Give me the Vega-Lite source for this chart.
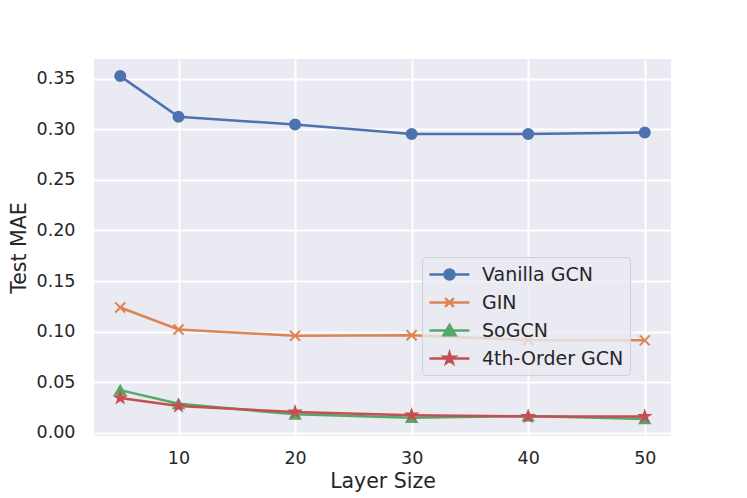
{
  "$schema": "https://vega.github.io/schema/vega-lite/v6.json",
  "autosize": {"type": "none"},
  "width": 577,
  "height": 377,
  "padding": {"left": 94, "top": 59, "right": 76, "bottom": 62},
  "background": "white",
  "config": {
    "view": {"fill": "#EAEAF2", "stroke": null},
    "font": "DejaVu Sans",
    "axis": {
      "domain": false,
      "ticks": false,
      "tickSize": 0,
      "grid": true,
      "gridColor": "white",
      "gridWidth": 2,
      "labelFont": "DejaVu Sans",
      "labelFontSize": 17.5,
      "labelColor": "#262626",
      "titleFont": "DejaVu Sans",
      "titleFontSize": 20.5,
      "titleFontWeight": "normal",
      "titleColor": "#262626"
    }
  },
  "data": {
    "values": [
      {"size": 5, "mae": 0.3525, "model": "Vanilla GCN", "marker": "o"},
      {"size": 10, "mae": 0.3123, "model": "Vanilla GCN", "marker": "o"},
      {"size": 20, "mae": 0.3047, "model": "Vanilla GCN", "marker": "o"},
      {"size": 30, "mae": 0.2952, "model": "Vanilla GCN", "marker": "o"},
      {"size": 40, "mae": 0.2952, "model": "Vanilla GCN", "marker": "o"},
      {"size": 50, "mae": 0.2968, "model": "Vanilla GCN", "marker": "o"},
      {"size": 5, "mae": 0.1239, "model": "GIN", "marker": "x"},
      {"size": 10, "mae": 0.1022, "model": "GIN", "marker": "x"},
      {"size": 20, "mae": 0.0959, "model": "GIN", "marker": "x"},
      {"size": 30, "mae": 0.0965, "model": "GIN", "marker": "x"},
      {"size": 40, "mae": 0.0918, "model": "GIN", "marker": "x"},
      {"size": 50, "mae": 0.0914, "model": "GIN", "marker": "x"},
      {"size": 5, "mae": 0.0422, "model": "SoGCN", "marker": "^"},
      {"size": 10, "mae": 0.0287, "model": "SoGCN", "marker": "^"},
      {"size": 20, "mae": 0.0183, "model": "SoGCN", "marker": "^"},
      {"size": 30, "mae": 0.0150, "model": "SoGCN", "marker": "^"},
      {"size": 40, "mae": 0.0166, "model": "SoGCN", "marker": "^"},
      {"size": 50, "mae": 0.0138, "model": "SoGCN", "marker": "^"},
      {"size": 5, "mae": 0.0345, "model": "4th-Order GCN", "marker": "*"},
      {"size": 10, "mae": 0.0265, "model": "4th-Order GCN", "marker": "*"},
      {"size": 20, "mae": 0.0205, "model": "4th-Order GCN", "marker": "*"},
      {"size": 30, "mae": 0.0175, "model": "4th-Order GCN", "marker": "*"},
      {"size": 40, "mae": 0.0162, "model": "4th-Order GCN", "marker": "*"},
      {"size": 50, "mae": 0.0162, "model": "4th-Order GCN", "marker": "*"}
    ]
  },
  "encoding": {
    "x": {
      "field": "size",
      "type": "quantitative",
      "title": "Layer Size",
      "scale": {"domain": [2.75, 52.25], "nice": false, "zero": false},
      "axis": {"values": [10, 20, 30, 40, 50], "labelPadding": 13, "titlePadding": 5}
    },
    "y": {
      "field": "mae",
      "type": "quantitative",
      "title": "Test MAE",
      "scale": {"domain": [-0.0031, 0.3694], "nice": false, "zero": false},
      "axis": {"values": [0, 0.05, 0.1, 0.15, 0.2, 0.25, 0.3, 0.35], "format": ".2f", "labelPadding": 19, "titlePadding": 7}
    },
    "color": {
      "field": "model",
      "type": "nominal",
      "sort": ["Vanilla GCN", "GIN", "SoGCN", "4th-Order GCN"],
      "scale": {
        "domain": ["Vanilla GCN", "GIN", "SoGCN", "4th-Order GCN"],
        "range": ["#4C72B0", "#DD8452", "#55A868", "#C44E52"]
      },
      "legend": {
        "title": null,
        "orient": "none",
        "legendX": 328,
        "legendY": 198,
        "direction": "vertical",
        "padding": 6,
        "rowPadding": 6,
        "symbolSize": 400,
        "symbolOffset": 10,
        "symbolStrokeWidth": 2.5,
        "labelOffset": 21,
        "labelFont": "DejaVu Sans",
        "labelFontSize": 19,
        "labelColor": "#262626",
        "fillColor": "rgba(234,234,242,0.8)",
        "strokeColor": "#CFCFD6",
        "cornerRadius": 4,
        "encode": {
          "symbols": {
            "update": {
              "shape": {"signal": "datum.value === 'Vanilla GCN' ? 'M-2,0L2,0M-0.5,0A0.5,0.5 0 1,1 0.5,0A0.5,0.5 0 1,1 -0.5,0Z' : datum.value === 'GIN' ? 'M-2,0L2,0M-0.44,-0.44L0.44,0.44M-0.44,0.44L0.44,-0.44' : datum.value === 'SoGCN' ? 'M-2,0L2,0M0,-0.56L0.6,0.48L-0.6,0.48Z' : 'M-2,0L2,0M0,-0.56L0.126,-0.173L0.532,-0.173L0.2034,0.066L0.3292,0.453L0,0.214L-0.3292,0.453L-0.2034,0.066L-0.532,-0.173L-0.126,-0.173Z'"},
              "fill": {"scale": "color", "field": "value"},
              "stroke": {"scale": "color", "field": "value"},
              "fillOpacity": {"value": 1},
              "strokeWidth": {"value": 2.5},
              "opacity": {"value": 1}
            }
          }
        }
      }
    }
  },
  "layer": [
    {
      "mark": {"type": "line", "strokeWidth": 2.5}
    },
    {
      "mark": {"type": "point", "filled": true, "opacity": 1, "strokeWidth": 2, "size": 100},
      "encoding": {
        "shape": {
          "field": "marker",
          "type": "nominal",
          "scale": {
            "domain": ["o", "x", "^", "*"],
            "range": ["circle", "M-1,-1L1,1M-1,1L1,-1", "triangle-up", "M0,-1L0.225,-0.309L0.951,-0.309L0.363,0.118L0.588,0.809L0,0.382L-0.588,0.809L-0.363,0.118L-0.951,-0.309L-0.225,-0.309Z"]
          },
          "legend": null
        },
        "stroke": {
          "field": "model",
          "type": "nominal",
          "scale": {
            "domain": ["Vanilla GCN", "GIN", "SoGCN", "4th-Order GCN"],
            "range": ["#4C72B0", "#DD8452", "#55A868", "#C44E52"]
          },
          "legend": null
        }
      }
    }
  ]
}
